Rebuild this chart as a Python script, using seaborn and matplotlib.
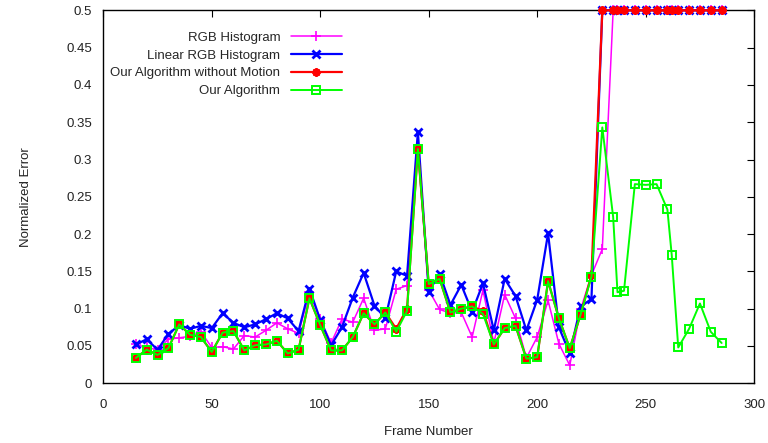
import numpy as np
import seaborn as sns
import matplotlib as mpl
mpl.use("Agg")
import matplotlib.pyplot as plt
from matplotlib.ticker import FuncFormatter

# frame numbers (regular part, then the irregular tail)
frames = [15, 20, 25, 30, 35, 40, 45, 50, 55, 60, 65, 70, 75, 80, 85, 90, 95,
          100, 105, 110, 115, 120, 125, 130, 135, 140, 145, 150, 155, 160, 165,
          170, 175, 180, 185, 190, 195, 200, 205, 210, 215, 220, 225, 230,
          235, 237, 240, 245, 250, 255, 260, 262, 265, 270, 275, 280, 285]

rgb_hist = [0.052, 0.048, 0.045, 0.059, 0.061, 0.063, 0.069, 0.048, 0.049, 0.046,
            0.064, 0.062, 0.071, 0.081, 0.073, 0.067, 0.122, 0.086, 0.054, 0.086,
            0.082, 0.114, 0.071, 0.073, 0.126, 0.131, 0.313, 0.125, 0.099, 0.094,
            0.095, 0.062, 0.125, 0.054, 0.119, 0.087, 0.034, 0.062, 0.111, 0.053,
            0.024, 0.099, 0.145, 0.180,
            0.5, 0.5, 0.5, 0.5, 0.5, 0.5, 0.5, 0.5, 0.5, 0.5, 0.5, 0.5, 0.5]

linear_rgb = [0.052, 0.059, 0.045, 0.066, 0.078, 0.073, 0.077, 0.074, 0.094, 0.081,
              0.075, 0.079, 0.086, 0.094, 0.087, 0.070, 0.127, 0.085, 0.051, 0.075,
              0.115, 0.148, 0.104, 0.087, 0.150, 0.144, 0.337, 0.123, 0.147, 0.105,
              0.132, 0.096, 0.134, 0.071, 0.140, 0.117, 0.071, 0.112, 0.201, 0.075,
              0.040, 0.103, 0.113, 0.5,
              0.5, 0.5, 0.5, 0.5, 0.5, 0.5, 0.5, 0.5, 0.5, 0.5, 0.5, 0.5, 0.5]

no_motion = [0.034, 0.045, 0.038, 0.047, 0.079, 0.065, 0.062, 0.042, 0.068, 0.070,
             0.044, 0.051, 0.052, 0.057, 0.040, 0.045, 0.114, 0.078, 0.044, 0.044,
             0.062, 0.094, 0.079, 0.095, 0.073, 0.100, 0.314, 0.133, 0.140, 0.095,
             0.100, 0.103, 0.097, 0.052, 0.074, 0.077, 0.033, 0.035, 0.137, 0.087,
             0.047, 0.092, 0.145, 0.5,
             0.5, 0.5, 0.5, 0.5, 0.5, 0.5, 0.5, 0.5, 0.5, 0.5, 0.5, 0.5, 0.5]

our_algo = [0.034, 0.045, 0.038, 0.047, 0.079, 0.065, 0.062, 0.042, 0.068, 0.070,
            0.044, 0.051, 0.052, 0.057, 0.040, 0.045, 0.114, 0.078, 0.044, 0.044,
            0.062, 0.094, 0.079, 0.095, 0.069, 0.097, 0.314, 0.133, 0.140, 0.095,
            0.100, 0.103, 0.093, 0.052, 0.074, 0.077, 0.033, 0.035, 0.137, 0.087,
            0.047, 0.092, 0.143, 0.343,
            0.223, 0.122, 0.124, 0.267, 0.266, 0.267, 0.233, 0.172, 0.048, 0.073,
            0.107, 0.069, 0.054]

sns.set_style("white")
plt.rcParams['font.family'] = ['Liberation Sans', 'DejaVu Sans']
plt.rcParams['font.size'] = 9.5

fig = plt.figure(figsize=(7.68, 4.43), dpi=100)
ax = fig.add_axes([0.1345, 0.1348, 0.8475, 0.8419])

sns.lineplot(x=frames, y=rgb_hist, ax=ax, color='#ff00ff', label="RGB Histogram",
             marker='+', markersize=7, mec='#ff00ff', mew=1.2, linewidth=1.1,
             clip_on=False, zorder=2)
sns.lineplot(x=frames, y=linear_rgb, ax=ax, color='#0000ff', label="Linear RGB Histogram",
             marker='x', markersize=6, mec='#0000ff', mew=2, linewidth=1.6,
             clip_on=False, zorder=3)
sns.lineplot(x=frames, y=no_motion, ax=ax, color='#ff0000',
             label="Our Algorithm without Motion",
             marker=(8, 2, 0), markersize=6, mec='#ff0000', mew=1.6, linewidth=1.6,
             clip_on=False, zorder=4)
sns.lineplot(x=frames, y=our_algo, ax=ax, color='#00ff00', label="Our Algorithm",
             marker='s', markersize=6, mec='#00ff00', mfc='none', mew=1.4,
             linewidth=1.4, clip_on=False, zorder=5)

ax.set_xlim(0, 300)
ax.set_ylim(0, 0.5)
ax.set_xticks(np.arange(0, 301, 50))
ax.set_yticks(np.arange(0, 0.501, 0.05))
ax.yaxis.set_major_formatter(FuncFormatter(lambda v, p: f"{v:g}"))
ax.tick_params(direction='in', length=5, width=0.8, top=True, right=True,
               colors='black', labelcolor='#222222')
ax.tick_params(axis='x', pad=11)
ax.tick_params(axis='y', pad=8)
for s in ax.spines.values():
    s.set_color('black')
    s.set_linewidth(1.0)

ax.set_xlabel("Frame Number", labelpad=11, color='#222222')
ax.set_ylabel("Normalized Error", labelpad=25, color='#222222')

# gnuplot-like key: labels right-aligned, samples to the right
leg = ax.legend(loc='upper right', bbox_to_anchor=(0.367, 0.943), frameon=False,
                markerfirst=False, handlelength=3.9, handletextpad=0.8,
                labelspacing=0.42, borderaxespad=0, borderpad=0)
for col in leg._legend_handle_box.get_children():
    col.align = 'right'

fig.savefig("out.png", dpi=100)
